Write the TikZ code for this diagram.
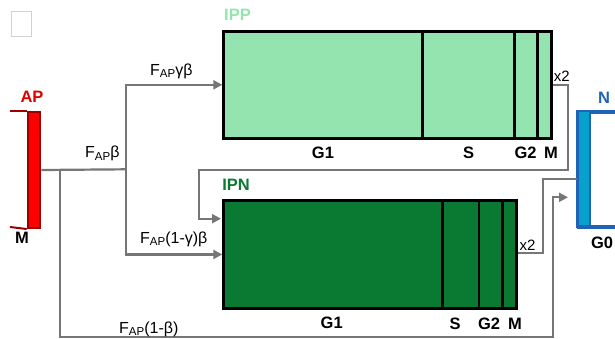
\documentclass[tikz,border=0pt]{standalone}
\usepackage{fontspec}
\setmainfont{Liberation Sans}
\usetikzlibrary{arrows.meta}
\definecolor{lgray}{HTML}{767676}
\definecolor{ippfill}{HTML}{93E4AE}
\definecolor{ipnfill}{HTML}{0A7A32}
\definecolor{apred}{HTML}{FF0000}
\definecolor{apdark}{HTML}{9A0000}
\definecolor{aplab}{HTML}{E00000}
\definecolor{nblue}{HTML}{1E63B5}
\definecolor{ncyan}{HTML}{08A0CC}
\newcommand\fapsub{F\raisebox{-2.5pt}{\fontsize{11.5}{12}\selectfont AP}}
\tikzset{
  flow/.style={draw=lgray, line width=2.2pt},
  arr/.style={flow, -{Triangle[length=9pt,width=9pt]}},
  cycbox/.style={draw=black, line width=2.9pt, rectangle, inner sep=0, anchor=north west},
  divider/.style={draw=black, line width=2.9pt},
  phase/.style={font=\fontsize{16.5}{16.5}\selectfont\bfseries, inner sep=0},
  flab/.style={font=\fontsize{16}{16}\selectfont, anchor=base west, inner sep=0},
  xlab/.style={font=\fontsize{15}{15}\selectfont, inner sep=0},
}
\begin{document}
\begin{tikzpicture}[x=1pt,y=-1pt]
\useasboundingbox (0,0) rectangle (615,338);
\clip (0,0) rectangle (615,338);

% faint box top-left
\draw[draw=black!18, line width=0.8pt] (11,11) rectangle (31,36);

% nodes (boxes)
\node[cycbox, fill=ippfill, minimum width=328pt, minimum height=106.7pt] (ipp) at (222.3,30) {};
\node[cycbox, fill=ipnfill, minimum width=292.7pt, minimum height=107.4pt] (ipn) at (222.3,199.3) {};
\node[draw=apdark, fill=apred, line width=2pt, minimum width=12.6pt, minimum height=116pt, inner sep=0, anchor=north west] (ap) at (26.7,111) {};
\node[draw=nblue, fill=white, line width=2.6pt, minimum width=60pt, minimum height=115.7pt, inner sep=0, anchor=north west] (nb) at (577.3,111) {};
\fill[ncyan] (578.3,112) rectangle (590,225.7);
\draw[draw=nblue, line width=2.6pt] (590,111) -- (590,226.7);
\draw[draw=nblue, line width=2.6pt] (577.3,111) rectangle (640,226.7);

% AP bracket
\draw[draw=apdark, line width=2pt] (10,111) -- (ap.north west);
\draw[draw=apdark, line width=2pt] (10,227) -- (ap.south west);

% coordinates
\coordinate (apout) at (ap.east);
\coordinate (br1) at (126,169.3);
\coordinate (br2) at (60.3,169.3);
\coordinate (ippin) at (ipp.west);
\coordinate (ipnin) at (ipn.west);
\coordinate (ippout) at (550.3,85);
\coordinate (ipnout) at (515,253.3);

% connectors
\draw[flow] (apout) -- (br1);
\draw[arr] (br1) |- (ippin);
\draw[arr] (br1) |- (ipnin);
\draw[arr] (br2) |- (553,336.7) |- (568,197.3);
\draw[arr] (ippout) -| (568,170) -| (199,218.7) -- (221,218.7);
\draw[flow] (ipnout) -| (542.7,179) -- (nb.west |- 0,179);

% redraw boxes on top
\node[cycbox, fill=ippfill, minimum width=328pt, minimum height=106.7pt] at (222.3,30) {};
\node[cycbox, fill=ipnfill, minimum width=292.7pt, minimum height=107.4pt] at (222.3,199.3) {};
\draw[divider] (422.3,30) -- (422.3,136.7);
\draw[divider] (514.3,30) -- (514.3,136.7);
\draw[divider] (537.7,30) -- (537.7,136.7);
\draw[divider] (442.3,199.3) -- (442.3,306.7);
\draw[divider] (479,199.3) -- (479,306.7);
\draw[divider] (502.3,199.3) -- (502.3,306.7);

% labels
\node[phase, text=ippfill] (lipp) at (237.5,15) {IPP};
\node[phase, text=ipnfill] (lipn) at (236,185) {IPN};
\node[phase, text=aplab] (lap) at (32,96.5) {AP};
\node[phase] (lapm) at (22,238) {M};
\node[phase, text=nblue] (ln) at (604,98) {N};
\node[phase] (lg0) at (602,243) {G0};

\node[phase] (g1a) at (323,152.5) {G1};
\node[phase] (sa) at (468.7,152.5) {S};
\node[phase] (g2a) at (525.5,152.5) {G2};
\node[phase] (ma) at (551,152.5) {M};

\node[phase] (g1b) at (331.7,323) {G1};
\node[phase] (sb) at (455,323.5) {S};
\node[phase] (g2b) at (489,323.5) {G2};
\node[phase] (mb) at (515,323.5) {M};

\node[xlab] (x2a) at (561.7,76) {x2};
\node[xlab] (x2b) at (527.5,245) {x2};

\node[flab] (f1) at (150,75) {\fapsub γβ};
\node[flab] (f2) at (85,157.7) {\fapsub β};
\node[flab] (f3) at (140,243) {\fapsub(1-γ)β};
\node[flab] (f4) at (119,333) {\fapsub(1-β)};
\end{tikzpicture}
\end{document}
